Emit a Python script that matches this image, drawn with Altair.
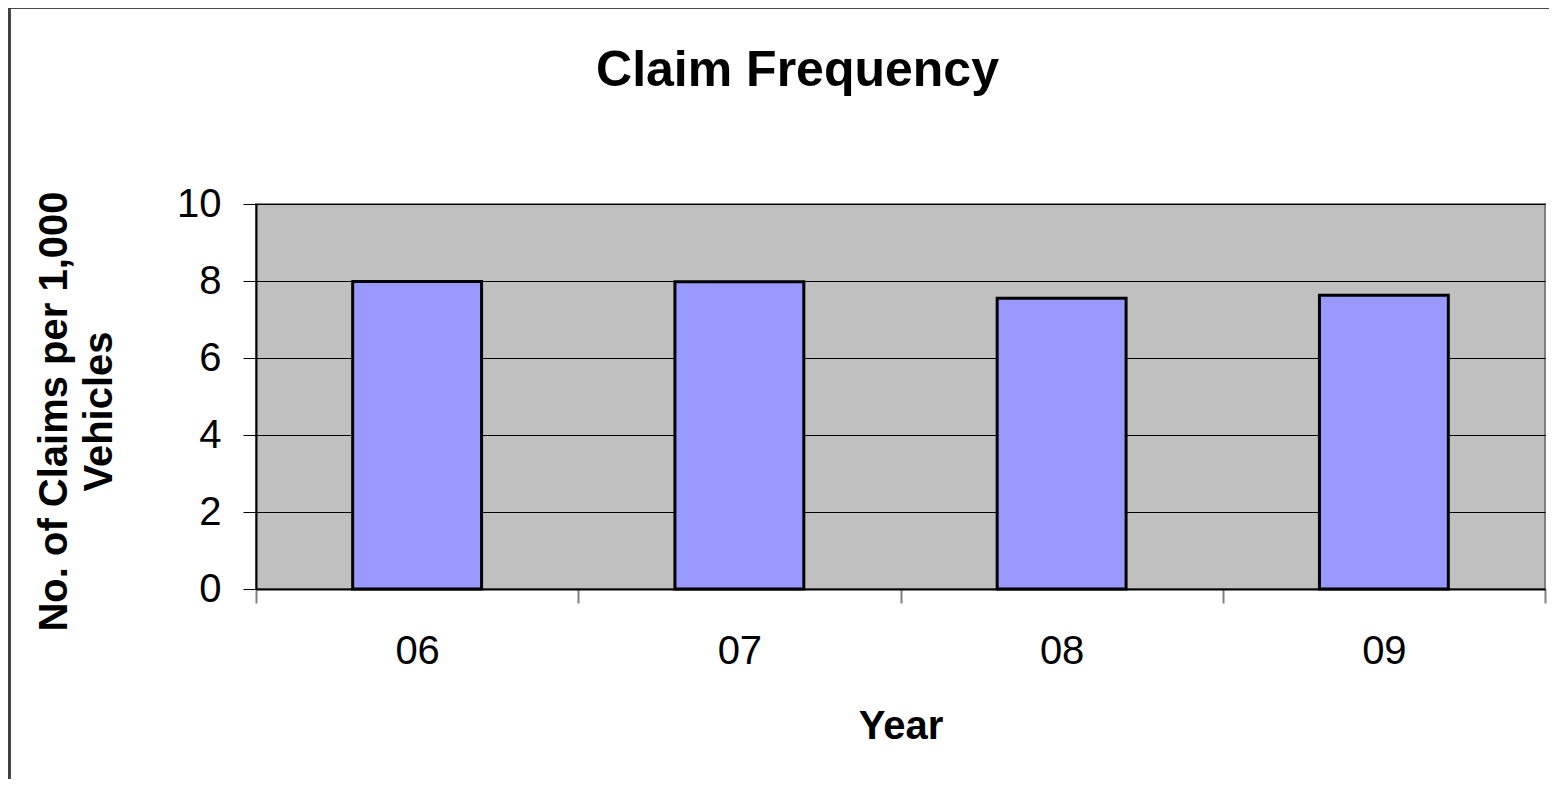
import altair as alt
import pandas as pd

years = ["06", "07", "08", "09"]
claims = [7.99, 7.98, 7.55, 7.63]

df = pd.DataFrame({"Year": years, "Claims": claims})

W, H = 1289, 385
FONT = "Liberation Sans"

bars = alt.Chart(df).mark_bar(
    color="#9999FF", stroke="#000000", strokeWidth=3,
    width=alt.RelativeBandSize(0.4)
).encode(
    x=alt.X("Year:N", sort=years,
            scale=alt.Scale(paddingInner=0, paddingOuter=0),
            axis=alt.Axis(title="Year", labelAngle=0, labelFontSize=40,
                          labelFont=FONT, labelColor="#000000",
                          labelPadding=28, tickBand="extent", tickSize=14,
                          tickColor="#808080", tickWidth=2,
                          domainColor="#000000", domainWidth=2,
                          titleFontSize=40, titleFont=FONT,
                          titleFontWeight="bold", titlePadding=35,
                          titleColor="#000000")),
    y=alt.Y("Claims:Q",
            scale=alt.Scale(domain=[0, 10]),
            axis=alt.Axis(title=["No. of Claims per 1,000", "Vehicles"],
                          values=[0, 2, 4, 6, 8, 10], labelFontSize=40,
                          labelFont=FONT, labelColor="#000000",
                          labelPadding=22, tickSize=13, tickColor="#000000",
                          domainColor="#000000", domainWidth=2,
                          gridColor="#000000", gridWidth=1,
                          titleFontSize=40, titleFont=FONT,
                          titleFontWeight="bold", titleLineHeight=45,
                          titlePadding=57, titleY=207, titleColor="#000000")),
)

# outer frame lines (decorative)
frame_v = alt.Chart(df).mark_rule(color="#404040", strokeWidth=3, clip=False).encode(
    x=alt.value(-247), y=alt.value(-197), y2=alt.value(600))
frame_h = alt.Chart(df).mark_rule(color="#404040", strokeWidth=3, clip=False).encode(
    x=alt.value(-247), x2=alt.value(1330), y=alt.value(-197))

chart = alt.layer(bars, frame_v, frame_h).properties(
    width=W, height=H,
    title=alt.TitleParams("Claim Frequency", fontSize=50, font=FONT,
                          fontWeight="bold", color="#000000",
                          baseline="alphabetic", offset=0, dy=130, dx=-103),
    padding={"left": 248, "top": 196, "right": 4, "bottom": 190},
    autosize=alt.AutoSizeParams(type="none"),
    background="#FFFFFF",
).configure_view(
    fill="#C0C0C0", stroke="#808080", strokeWidth=2
)

chart.save("out.html", embed_options={"renderer": "svg", "actions": False})
